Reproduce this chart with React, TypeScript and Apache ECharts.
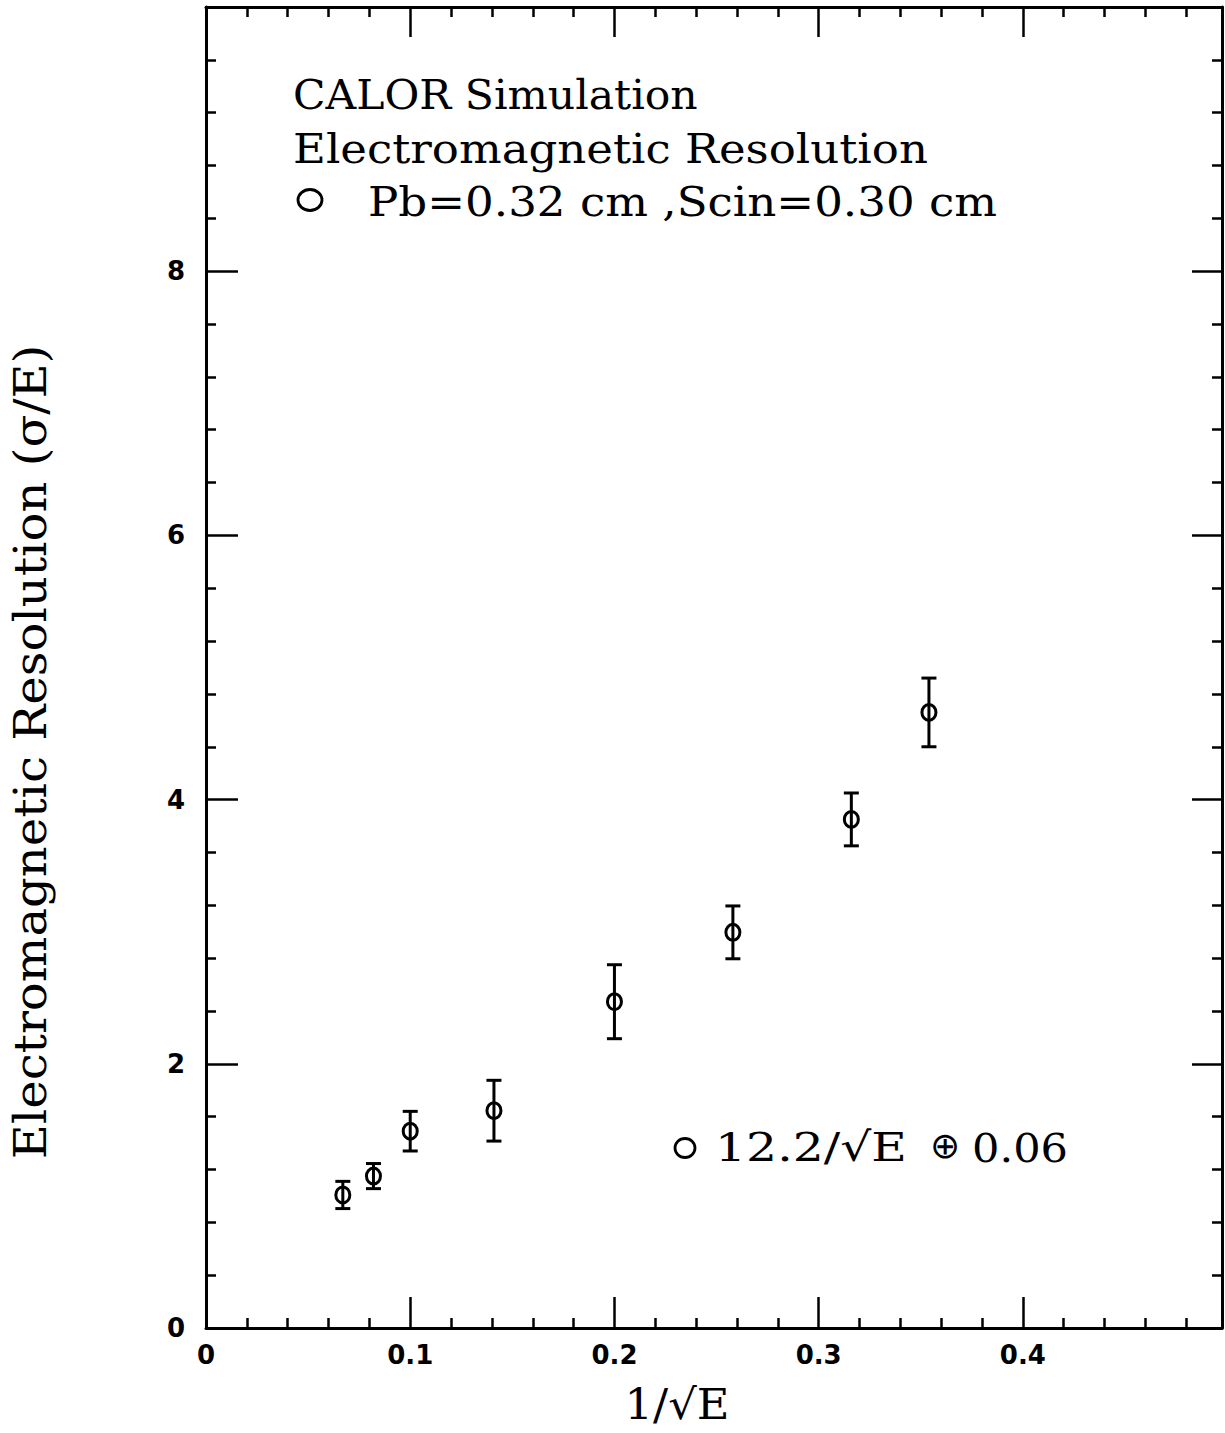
import React, { useEffect, useRef } from "react";
import * as echarts from "echarts";

// ---- data ----
const invSqrtE = [0.067, 0.082, 0.1, 0.141, 0.2, 0.258, 0.316, 0.354];
const resolution = [1.007, 1.15, 1.49, 1.645, 2.47, 2.995, 3.85, 4.66];
const resolutionErr = [0.103, 0.095, 0.15, 0.23, 0.28, 0.2, 0.2, 0.26];

const titleLines = [
  "CALOR Simulation",
  "Electromagnetic Resolution",
  "Pb=0.32 cm ,Scin=0.30 cm",
];
const fitLabel = "12.2/\u221AE";
const fitOplus = "\u2295";
const fitConst = "0.06";
const xTitle = "1/\u221AE";
const yTitle = "Electromagnetic Resolution (\u03C3/E)";

const SERIF = '"DejaVu Serif", serif';
const SANS = '"DejaVu Sans", sans-serif';

function fitScale(text: string, fontSize: number, family: string, width: number, weight = "normal") {
  if (width <= 0) return 1;
  const c = document.createElement("canvas").getContext("2d");
  if (!c) return 1;
  c.font = `${weight} ${fontSize}px ${family}`;
  const w = c.measureText(text).width;
  return w > 0 ? width / w : 1;
}

export default function App() {
  const ref = useRef<HTMLDivElement>(null);

  useEffect(() => {
    if (!ref.current) return;
    const chart = echarts.init(ref.current, undefined, { renderer: "svg" });

    const data = invSqrtE.map((x, i) => [x, resolution[i], resolutionErr[i]]);

    const axisCommon = {
      type: "value" as const,
      axisLine: { show: true, onZero: false, lineStyle: { color: "#000", width: 3 } },
      splitLine: { show: false },
    };

    const tickLabel = {
      show: true,
      showMaxLabel: false,
      color: "#000",
      fontFamily: SANS,
      fontWeight: "bold",
      fontSize: 26,
    };

    const txt = (
      text: string,
      x: number,
      y: number,
      size: number,
      width: number,
      align: string = "left",
      family: string = SERIF,
      rotation = 0
    ) => ({
      type: "text",
      x,
      y,
      rotation,
      scaleX: fitScale(text, size, family, width),
      style: {
        text,
        fontSize: size,
        fontFamily: family,
        fill: "#000",
        align,
        verticalAlign: "middle",
      },
      z: 10,
    });

    const option: any = {
      animation: false,
      backgroundColor: "#fff",
      grid: { left: 206, right: 3, top: 7, bottom: 105, containLabel: false },
      xAxis: [
        {
          ...axisCommon,
          position: "bottom",
          min: 0,
          max: 0.4975,
          interval: 0.1,
          axisTick: { show: true, inside: true, length: 31, lineStyle: { color: "#000", width: 2.5 } },
          minorTick: { show: true, splitNumber: 5, length: 10, lineStyle: { color: "#000", width: 2.5 } },
          axisLabel: { ...tickLabel, margin: 14 },
        },
        {
          ...axisCommon,
          position: "top",
          min: 0,
          max: 0.4975,
          interval: 0.1,
          axisTick: { show: true, inside: true, length: 30, lineStyle: { color: "#000", width: 2.5 } },
          minorTick: { show: true, splitNumber: 5, length: 10, lineStyle: { color: "#000", width: 2.5 } },
          axisLabel: { show: false },
        },
      ],
      yAxis: [
        {
          ...axisCommon,
          position: "left",
          min: 0,
          max: 10,
          interval: 2,
          axisTick: { show: true, inside: true, length: 32, lineStyle: { color: "#000", width: 2.5 } },
          minorTick: { show: true, splitNumber: 5, length: 10, lineStyle: { color: "#000", width: 2.5 } },
          axisLabel: { ...tickLabel, margin: 21 },
        },
        {
          ...axisCommon,
          position: "right",
          min: 0,
          max: 10,
          interval: 2,
          axisTick: { show: true, inside: true, length: 30, lineStyle: { color: "#000", width: 2.5 } },
          minorTick: { show: true, splitNumber: 5, length: 10, lineStyle: { color: "#000", width: 2.5 } },
          axisLabel: { show: false },
        },
      ],
      series: [
        {
          type: "custom",
          xAxisIndex: 0,
          yAxisIndex: 0,
          data,
          renderItem: (params: any, api: any) => {
            const x = api.value(0);
            const y = api.value(1);
            const e = api.value(2);
            const c = api.coord([x, y]);
            const top = api.coord([x, y + e]);
            const bot = api.coord([x, y - e]);
            const cap = 7.5;
            const st = { stroke: "#000", lineWidth: 3, fill: "none" };
            return {
              type: "group",
              children: [
                { type: "line", shape: { x1: c[0], y1: top[1], x2: c[0], y2: bot[1] }, style: st },
                { type: "line", shape: { x1: c[0] - cap, y1: top[1], x2: c[0] + cap, y2: top[1] }, style: st },
                { type: "line", shape: { x1: c[0] - cap, y1: bot[1], x2: c[0] + cap, y2: bot[1] }, style: st },
                { type: "ellipse", shape: { cx: c[0], cy: c[1], rx: 7, ry: 8 }, style: st },
              ],
            };
          },
        },
      ],
      graphic: [
        txt(titleLines[0], 293, 95, 41, 405),
        txt(titleLines[1], 293, 149, 41, 635),
        {
          type: "ellipse",
          shape: { cx: 310, cy: 200, rx: 12, ry: 10.5 },
          style: { stroke: "#000", lineWidth: 2.8, fill: "none" },
        },
        txt(titleLines[2], 368, 202, 41, 629),
        {
          type: "ellipse",
          shape: { cx: 685, cy: 1148, rx: 10, ry: 9.5 },
          style: { stroke: "#000", lineWidth: 2.8, fill: "none" },
        },
        txt(fitLabel, 715, 1148, 40, 192),
        txt(fitOplus, 945, 1145, 36, 0, "center", SANS),
        txt(fitConst, 972, 1148, 40, 96),
        txt(xTitle, 677, 1405, 42, 105, "center"),
        txt(yTitle, 31, 752, 44, 815, "center", SERIF, Math.PI / 2),
      ],
    };

    chart.setOption(option);
    return () => chart.dispose();
  }, []);

  return (
    <div
      ref={ref}
      style={{ position: "absolute", left: 0, top: 0, width: 1225, height: 1433, background: "#fff" }}
    />
  );
}
